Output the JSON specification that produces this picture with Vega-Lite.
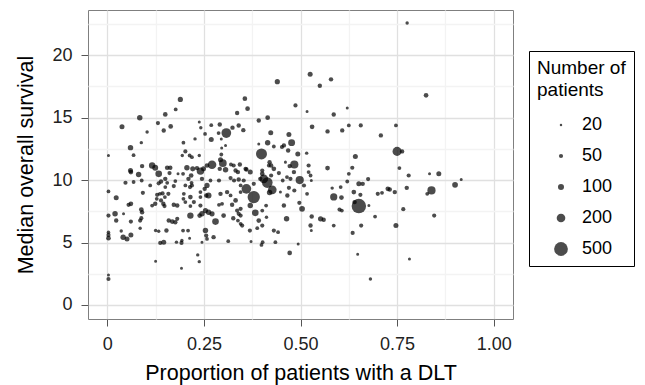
{
"$schema":"https://vega.github.io/schema/vega-lite/v6.json",
"width":425,"height":309,
"autosize":{"type":"none"},
"padding":{"left":88,"top":10,"right":132,"bottom":66},
"background":"white",
"config":{"font":"Liberation Sans","view":{"stroke":"#7f7f7f","strokeWidth":1},
"axis":{"domain":false,"tickColor":"#555","tickSize":7,"tickWidth":1,"labelFontSize":18,"labelColor":"#222","labelPadding":9,"titleFontSize":21.5,"titleFontWeight":"normal","titleColor":"#000","gridWidth":1.3},
"legend":{"labelFontSize":18,"titleFontSize":19,"titleFontWeight":"normal","labelColor":"#000","titleColor":"#000"}},
"data":{"values":[
{"dlt":0.003,"os":11.97,"n":28},{"dlt":0.003,"os":9.09,"n":42},{"dlt":0.023,"os":8.58,"n":70},{"dlt":0.003,"os":7.16,"n":50},{"dlt":0.02,"os":7.3,"n":82},{"dlt":0.023,"os":6.76,"n":55},{"dlt":0.036,"os":5.93,"n":35},{"dlt":0.003,"os":5.83,"n":35},{"dlt":0.003,"os":5.61,"n":50},{"dlt":0.003,"os":5.35,"n":62},{"dlt":0.041,"os":5.43,"n":82},{"dlt":0.051,"os":5.29,"n":70},{"dlt":0.061,"os":5.61,"n":70},{"dlt":0.042,"os":7.3,"n":28},{"dlt":0.061,"os":6.68,"n":50},{"dlt":0.055,"os":8.02,"n":50},{"dlt":0.061,"os":8.1,"n":62},{"dlt":0.047,"os":9.79,"n":50},{"dlt":0.068,"os":9.85,"n":42},{"dlt":0.092,"os":8.98,"n":50},{"dlt":0.088,"os":7.64,"n":62},{"dlt":0.09,"os":7.43,"n":55},{"dlt":0.085,"os":6.76,"n":50},{"dlt":0.085,"os":6.15,"n":35},{"dlt":0.088,"os":6.95,"n":50},{"dlt":0.003,"os":2.4,"n":28},{"dlt":0.003,"os":2.08,"n":50},{"dlt":0.038,"os":14.27,"n":70},{"dlt":0.084,"os":15.0,"n":82},{"dlt":0.06,"os":12.6,"n":82},{"dlt":0.068,"os":12.0,"n":42},{"dlt":0.088,"os":13.0,"n":35},{"dlt":0.103,"os":13.85,"n":35},{"dlt":0.131,"os":14.57,"n":50},{"dlt":0.15,"os":15.26,"n":62},{"dlt":0.146,"os":13.97,"n":55},{"dlt":0.164,"os":14.3,"n":62},{"dlt":0.177,"os":15.66,"n":42},{"dlt":0.189,"os":16.46,"n":75},{"dlt":0.197,"os":13.0,"n":42},{"dlt":0.202,"os":12.3,"n":50},{"dlt":0.194,"os":11.97,"n":35},{"dlt":0.213,"os":11.97,"n":42},{"dlt":0.219,"os":11.84,"n":42},{"dlt":0.238,"os":11.97,"n":35},{"dlt":0.227,"os":13.3,"n":35},{"dlt":0.238,"os":14.65,"n":28},{"dlt":0.242,"os":14.2,"n":35},{"dlt":0.253,"os":13.7,"n":42},{"dlt":0.269,"os":14.4,"n":42},{"dlt":0.269,"os":13.26,"n":70},{"dlt":0.291,"os":14.46,"n":55},{"dlt":0.288,"os":13.77,"n":42},{"dlt":0.295,"os":13.3,"n":28},{"dlt":0.308,"os":13.77,"n":250},{"dlt":0.324,"os":14.2,"n":55},{"dlt":0.306,"os":12.78,"n":28},{"dlt":0.295,"os":12.05,"n":42},{"dlt":0.34,"os":14.38,"n":55},{"dlt":0.352,"os":14.0,"n":55},{"dlt":0.336,"os":15.37,"n":55},{"dlt":0.356,"os":16.52,"n":62},{"dlt":0.363,"os":15.72,"n":62},{"dlt":0.392,"os":14.78,"n":55},{"dlt":0.415,"os":15.0,"n":62},{"dlt":0.423,"os":13.79,"n":70},{"dlt":0.44,"os":17.88,"n":75},{"dlt":0.415,"os":13.0,"n":82},{"dlt":0.392,"os":12.9,"n":28},{"dlt":0.399,"os":12.1,"n":320},{"dlt":0.431,"os":12.69,"n":42},{"dlt":0.42,"os":11.44,"n":55},{"dlt":0.418,"os":11.17,"n":42},{"dlt":0.457,"os":12.78,"n":55},{"dlt":0.47,"os":13.66,"n":70},{"dlt":0.477,"os":13.0,"n":130},{"dlt":0.468,"os":12.37,"n":55},{"dlt":0.461,"os":11.44,"n":28},{"dlt":0.493,"os":12.1,"n":70},{"dlt":0.487,"os":15.98,"n":50},{"dlt":0.517,"os":15.5,"n":28},{"dlt":0.516,"os":12.16,"n":35},{"dlt":0.525,"os":18.47,"n":70},{"dlt":0.55,"os":17.56,"n":55},{"dlt":0.53,"os":14.27,"n":62},{"dlt":0.57,"os":13.9,"n":55},{"dlt":0.484,"os":11.25,"n":180},{"dlt":0.472,"os":11.12,"n":55},{"dlt":0.498,"os":10.0,"n":180},{"dlt":0.521,"os":11.17,"n":50},{"dlt":0.521,"os":10.64,"n":42},{"dlt":0.526,"os":10.37,"n":42},{"dlt":0.528,"os":9.97,"n":28},{"dlt":0.57,"os":10.96,"n":62},{"dlt":0.579,"os":18.07,"n":55},{"dlt":0.776,"os":22.59,"n":35},{"dlt":0.825,"os":16.79,"n":62},{"dlt":0.586,"os":15.26,"n":55},{"dlt":0.621,"os":15.77,"n":28},{"dlt":0.608,"os":13.98,"n":55},{"dlt":0.625,"os":14.38,"n":42},{"dlt":0.656,"os":14.38,"n":50},{"dlt":0.747,"os":14.38,"n":42},{"dlt":0.708,"os":13.58,"n":55},{"dlt":0.75,"os":12.3,"n":220},{"dlt":0.763,"os":12.3,"n":55},{"dlt":0.642,"os":11.89,"n":70},{"dlt":0.634,"os":10.99,"n":50},{"dlt":0.625,"os":10.5,"n":42},{"dlt":0.621,"os":9.89,"n":42},{"dlt":0.651,"os":9.7,"n":70},{"dlt":0.661,"os":9.7,"n":55},{"dlt":0.675,"os":10.08,"n":50},{"dlt":0.7,"os":8.9,"n":50},{"dlt":0.711,"os":8.98,"n":42},{"dlt":0.726,"os":9.3,"n":62},{"dlt":0.731,"os":9.25,"n":55},{"dlt":0.744,"os":9.04,"n":55},{"dlt":0.775,"os":9.38,"n":55},{"dlt":0.638,"os":9.04,"n":62},{"dlt":0.655,"os":8.82,"n":50},{"dlt":0.604,"os":9.44,"n":42},{"dlt":0.586,"os":8.65,"n":140},{"dlt":0.582,"os":9.36,"n":35},{"dlt":0.606,"os":8.6,"n":62},{"dlt":0.839,"os":9.17,"n":180},{"dlt":0.828,"os":8.9,"n":42},{"dlt":0.858,"os":10.5,"n":70},{"dlt":0.834,"os":10.5,"n":28},{"dlt":0.78,"os":10.37,"n":50},{"dlt":0.9,"os":9.62,"n":90},{"dlt":0.916,"os":10.05,"n":28},{"dlt":0.651,"os":7.92,"n":550},{"dlt":0.64,"os":8.24,"n":55},{"dlt":0.677,"os":7.96,"n":28},{"dlt":0.601,"os":7.64,"n":50},{"dlt":0.607,"os":7.56,"n":42},{"dlt":0.504,"os":7.7,"n":90},{"dlt":0.766,"os":7.67,"n":50},{"dlt":0.693,"os":7.08,"n":42},{"dlt":0.529,"os":7.08,"n":55},{"dlt":0.552,"os":6.9,"n":75},{"dlt":0.56,"os":6.82,"n":55},{"dlt":0.586,"os":6.36,"n":42},{"dlt":0.526,"os":6.36,"n":55},{"dlt":0.528,"os":5.96,"n":28},{"dlt":0.657,"os":6.36,"n":50},{"dlt":0.635,"os":5.77,"n":50},{"dlt":0.747,"os":6.36,"n":70},{"dlt":0.846,"os":7.16,"n":50},{"dlt":0.648,"os":4.07,"n":28},{"dlt":0.782,"os":3.69,"n":28},{"dlt":0.681,"os":2.08,"n":35},{"dlt":0.116,"os":11.17,"n":110},{"dlt":0.124,"os":10.99,"n":95},{"dlt":0.133,"os":10.5,"n":120},{"dlt":0.06,"os":10.77,"n":70},{"dlt":0.061,"os":10.64,"n":62},{"dlt":0.09,"os":11.12,"n":55},{"dlt":0.081,"os":10.45,"n":82},{"dlt":0.089,"os":9.97,"n":42},{"dlt":0.111,"os":9.57,"n":42},{"dlt":0.133,"os":9.74,"n":50},{"dlt":0.139,"os":9.89,"n":55},{"dlt":0.15,"os":10.1,"n":55},{"dlt":0.155,"os":10.99,"n":62},{"dlt":0.163,"os":10.99,"n":55},{"dlt":0.161,"os":10.56,"n":50},{"dlt":0.183,"os":10.5,"n":28},{"dlt":0.196,"os":10.5,"n":42},{"dlt":0.206,"os":10.99,"n":82},{"dlt":0.217,"os":10.37,"n":62},{"dlt":0.221,"os":10.9,"n":70},{"dlt":0.232,"os":10.96,"n":55},{"dlt":0.241,"os":10.72,"n":150},{"dlt":0.249,"os":10.9,"n":70},{"dlt":0.258,"os":11.17,"n":62},{"dlt":0.271,"os":11.23,"n":200},{"dlt":0.245,"os":10.1,"n":55},{"dlt":0.258,"os":9.57,"n":75},{"dlt":0.267,"os":9.97,"n":42},{"dlt":0.289,"os":9.97,"n":50},{"dlt":0.299,"os":11.36,"n":160},{"dlt":0.293,"os":11.63,"n":70},{"dlt":0.291,"os":10.9,"n":55},{"dlt":0.306,"os":10.83,"n":82},{"dlt":0.32,"os":11.25,"n":42},{"dlt":0.327,"os":11.17,"n":50},{"dlt":0.343,"os":11.25,"n":55},{"dlt":0.332,"os":10.77,"n":55},{"dlt":0.338,"os":10.64,"n":55},{"dlt":0.319,"os":10.16,"n":50},{"dlt":0.328,"os":9.97,"n":50},{"dlt":0.34,"os":10.05,"n":55},{"dlt":0.36,"os":10.85,"n":55},{"dlt":0.37,"os":10.64,"n":70},{"dlt":0.353,"os":9.97,"n":50},{"dlt":0.36,"os":9.3,"n":250},{"dlt":0.379,"os":9.7,"n":50},{"dlt":0.345,"os":9.57,"n":42},{"dlt":0.345,"os":9.04,"n":42},{"dlt":0.319,"os":8.77,"n":42},{"dlt":0.31,"os":9.04,"n":55},{"dlt":0.401,"os":10.5,"n":62},{"dlt":0.396,"os":10.1,"n":55},{"dlt":0.405,"os":10.1,"n":200},{"dlt":0.414,"os":9.8,"n":300},{"dlt":0.427,"os":9.22,"n":200},{"dlt":0.42,"os":9.0,"n":82},{"dlt":0.424,"os":11.17,"n":55},{"dlt":0.431,"os":10.9,"n":62},{"dlt":0.444,"os":10.56,"n":50},{"dlt":0.454,"os":9.97,"n":42},{"dlt":0.465,"os":10.24,"n":42},{"dlt":0.474,"os":10.1,"n":50},{"dlt":0.483,"os":10.64,"n":55},{"dlt":0.47,"os":9.38,"n":50},{"dlt":0.484,"os":9.17,"n":50},{"dlt":0.509,"os":9.57,"n":50},{"dlt":0.517,"os":8.9,"n":42},{"dlt":0.21,"os":10.1,"n":55},{"dlt":0.214,"os":9.44,"n":50},{"dlt":0.296,"os":12.57,"n":28},{"dlt":0.452,"os":12.65,"n":50},{"dlt":0.358,"os":10.9,"n":55},{"dlt":0.401,"os":10.77,"n":50},{"dlt":0.424,"os":10.37,"n":50},{"dlt":0.756,"os":10.96,"n":42},{"dlt":0.116,"os":7.96,"n":42},{"dlt":0.124,"os":8.1,"n":55},{"dlt":0.129,"os":8.82,"n":50},{"dlt":0.136,"os":8.9,"n":42},{"dlt":0.143,"os":8.93,"n":50},{"dlt":0.155,"os":9.78,"n":42},{"dlt":0.15,"os":9.44,"n":42},{"dlt":0.125,"os":5.96,"n":35},{"dlt":0.133,"os":5.91,"n":35},{"dlt":0.125,"os":3.5,"n":28},{"dlt":0.137,"os":4.97,"n":50},{"dlt":0.146,"os":5.03,"n":70},{"dlt":0.153,"os":5.96,"n":55},{"dlt":0.145,"os":8.1,"n":55},{"dlt":0.148,"os":7.92,"n":50},{"dlt":0.159,"os":6.76,"n":55},{"dlt":0.168,"os":6.68,"n":62},{"dlt":0.176,"os":6.63,"n":55},{"dlt":0.172,"os":9.52,"n":50},{"dlt":0.176,"os":9.92,"n":42},{"dlt":0.172,"os":8.02,"n":55},{"dlt":0.181,"os":7.96,"n":55},{"dlt":0.181,"os":6.9,"n":50},{"dlt":0.179,"os":5.03,"n":35},{"dlt":0.193,"os":5.16,"n":35},{"dlt":0.192,"os":4.97,"n":50},{"dlt":0.192,"os":2.94,"n":28},{"dlt":0.198,"os":8.9,"n":42},{"dlt":0.202,"os":9.57,"n":42},{"dlt":0.202,"os":8.24,"n":42},{"dlt":0.196,"os":5.96,"n":42},{"dlt":0.209,"os":5.96,"n":42},{"dlt":0.213,"os":5.35,"n":28},{"dlt":0.215,"os":7.16,"n":110},{"dlt":0.215,"os":8.64,"n":62},{"dlt":0.224,"os":8.24,"n":50},{"dlt":0.215,"os":7.92,"n":42},{"dlt":0.219,"os":9.57,"n":50},{"dlt":0.218,"os":9.78,"n":42},{"dlt":0.234,"os":4.01,"n":35},{"dlt":0.238,"os":3.47,"n":35},{"dlt":0.241,"os":9.04,"n":42},{"dlt":0.241,"os":8.64,"n":42},{"dlt":0.239,"os":7.16,"n":62},{"dlt":0.245,"os":5.03,"n":28},{"dlt":0.254,"os":5.96,"n":82},{"dlt":0.256,"os":5.56,"n":50},{"dlt":0.258,"os":5.29,"n":42},{"dlt":0.252,"os":9.3,"n":55},{"dlt":0.256,"os":8.77,"n":55},{"dlt":0.245,"os":7.3,"n":82},{"dlt":0.254,"os":7.56,"n":75},{"dlt":0.262,"os":7.43,"n":82},{"dlt":0.271,"os":7.3,"n":75},{"dlt":0.262,"os":8.77,"n":95},{"dlt":0.28,"os":6.68,"n":120},{"dlt":0.275,"os":5.43,"n":55},{"dlt":0.289,"os":8.02,"n":42},{"dlt":0.297,"os":8.1,"n":42},{"dlt":0.293,"os":8.9,"n":55},{"dlt":0.301,"os":7.16,"n":62},{"dlt":0.313,"os":5.11,"n":42},{"dlt":0.323,"os":8.02,"n":55},{"dlt":0.332,"os":8.37,"n":62},{"dlt":0.326,"os":6.95,"n":55},{"dlt":0.336,"os":7.56,"n":50},{"dlt":0.34,"os":7.3,"n":50},{"dlt":0.345,"os":7.16,"n":50},{"dlt":0.338,"os":6.76,"n":42},{"dlt":0.345,"os":6.5,"n":42},{"dlt":0.349,"os":6.36,"n":50},{"dlt":0.379,"os":8.64,"n":400},{"dlt":0.37,"os":7.96,"n":82},{"dlt":0.383,"os":7.38,"n":120},{"dlt":0.392,"os":6.76,"n":62},{"dlt":0.388,"os":6.15,"n":42},{"dlt":0.401,"os":6.36,"n":50},{"dlt":0.369,"os":5.96,"n":50},{"dlt":0.372,"os":5.08,"n":28},{"dlt":0.399,"os":4.81,"n":42},{"dlt":0.402,"os":5.03,"n":42},{"dlt":0.411,"os":7.96,"n":42},{"dlt":0.435,"os":5.03,"n":42},{"dlt":0.431,"os":5.96,"n":50},{"dlt":0.442,"os":5.83,"n":42},{"dlt":0.457,"os":7.96,"n":55},{"dlt":0.464,"os":6.9,"n":82},{"dlt":0.472,"os":4.17,"n":62},{"dlt":0.494,"os":4.89,"n":28},{"dlt":0.497,"os":8.18,"n":50},{"dlt":0.448,"os":9.04,"n":28},{"dlt":0.139,"os":8.37,"n":50},{"dlt":0.149,"os":8.64,"n":42},{"dlt":0.158,"os":8.9,"n":50},{"dlt":0.197,"os":8.5,"n":42},{"dlt":0.128,"os":8.5,"n":42},{"dlt":0.241,"os":7.96,"n":50},{"dlt":0.401,"os":7.56,"n":42},{"dlt":0.412,"os":7.03,"n":35},{"dlt":0.466,"os":8.77,"n":55},{"dlt":0.345,"os":7.7,"n":50}
]},
"mark":{"type":"circle","color":"black","opacity":0.7},
"encoding":{
"x":{"field":"dlt","type":"quantitative","title":"Proportion of patients with a DLT",
"scale":{"domain":[-0.05,1.05],"nice":false,"zero":false},
"axis":{"values":[0,0.125,0.25,0.375,0.5,0.625,0.75,0.875,1],
"labelExpr":"datum.value % 0.25 === 0 ? (datum.value === 0 ? '0' : format(datum.value, '.2f')) : ''",
"gridColor":{"condition":{"test":"datum.value % 0.25 !== 0","value":"#f3f3f3"},"value":"#e0e0e0"},
"tickOpacity":{"condition":{"test":"datum.value % 0.25 !== 0","value":0},"value":1},
"titlePadding":9}},
"y":{"field":"os","type":"quantitative","title":"Median overall survival",
"scale":{"domain":[-1.125,23.625],"nice":false,"zero":false},
"axis":{"values":[0,2.5,5,7.5,10,12.5,15,17.5,20,22.5],
"labelExpr":"datum.value % 5 === 0 ? datum.label : ''",
"gridColor":{"condition":{"test":"datum.value % 5 !== 0","value":"#f3f3f3"},"value":"#e0e0e0"},
"tickOpacity":{"condition":{"test":"datum.value % 5 !== 0","value":0},"value":1},
"titlePadding":14}},
"size":{"field":"n","type":"quantitative",
"scale":{"type":"linear","domain":[20,500],"range":[6,190],"zero":false},
"legend":{"orient":"none","legendX":441,"legendY":41,"title":["Number of","patients"],"values":[20,50,100,200,500],
"strokeColor":"black","padding":8,"symbolOffset":15,"labelOffset":12,"rowPadding":13,"titleLineHeight":22,"titlePadding":16,"symbolFillColor":"black","symbolStrokeWidth":0}}
}
}
